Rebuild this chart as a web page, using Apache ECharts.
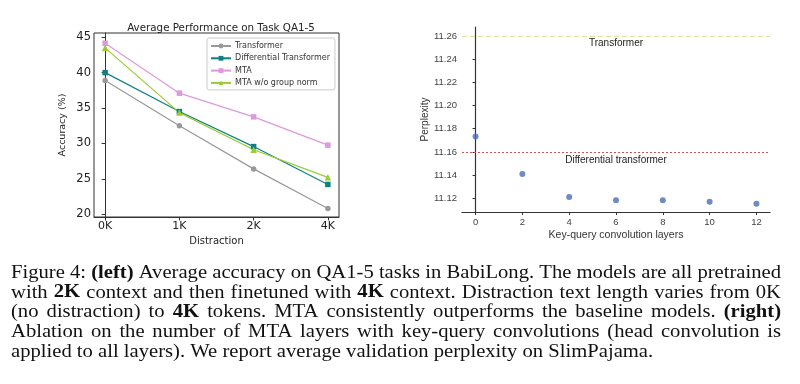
<!DOCTYPE html>
<html><head><meta charset="utf-8">
<script src="https://cdn.jsdelivr.net/npm/echarts@6/dist/echarts.min.js"></script>
<style>html,body{margin:0;padding:0;background:#fff}#c{width:800px;height:384px}</style>
</head><body><div id="c"></div>
<script>
// ---- data ----
const categories = ['0K', '1K', '2K', '4K'];
const transformer = [38.9, 32.5, 26.4, 20.8];
const diffTransformer = [40.0, 34.5, 29.55, 24.2];
const mta = [44.15, 37.1, 33.75, 29.75];
const mtaNoGroupNorm = [43.5, 34.35, 29.1, 25.2];
const accTicks = [20, 25, 30, 35, 40, 45];

const kqLayers = [0, 2, 4, 6, 8, 10, 12];
const perplexity = [11.1734, 11.141, 11.1211, 11.1183, 11.1183, 11.1171, 11.1154];
const pplTicks = [11.12, 11.14, 11.16, 11.18, 11.20, 11.22, 11.24, 11.26];
const transformerPpl = 11.26;
const diffTransformerPpl = 11.16;

const captionLines = [
  [['Figure 4:', 0], ['(left)', 1], ['Average accuracy on QA1-5 tasks in BabiLong. The models are all pretrained', 0]],
  [['with', 0], ['2K', 1], ['context and then finetuned with', 0], ['4K', 1], ['context. Distraction text length varies from 0K', 0]],
  [['(no distraction) to', 0], ['4K', 1], ['tokens. MTA consistently outperforms the baseline models.', 0], ['(right)', 1]],
  [['Ablation on the number of MTA layers with key-query convolutions (head convolution is', 0]],
  [['applied to all layers). We report average validation perplexity on SlimPajama.', 0]]
];

// ---- chart ----
const chart = echarts.init(document.getElementById('c'), null, {renderer: 'canvas'});
const sans = 'DejaVu Sans';
const sans2 = 'Liberation Sans';

function pts(vals) { return vals.map((v, i) => [i, v]); }

// caption layout: words horizontally scaled, then justified
const serif = 'Liberation Serif';
const capSize = 18.5;
const capLeft = 11, capRight = 781, capTop0 = 273, capLineH = 19.7;
const cv = document.createElement('canvas').getContext('2d');
function fontOf(b) { return (b ? 'bold ' : '') + capSize + 'px "' + serif + '"'; }
function measure(t, b) { cv.font = fontOf(b); return cv.measureText(t).width; }
const space = measure(' ', 0);
const lineWords = captionLines.map(segs => {
  const words = [];
  segs.forEach(([t, b]) => t.split(' ').forEach(w => words.push([w, b])));
  return words;
});
const lineInfo = lineWords.map(words => {
  const widths = words.map(([w, b]) => measure(w, b));
  const total = widths.reduce((a, b) => a + b, 0);
  return {widths, total, natural: total + space * (words.length - 1)};
});
let sx = Infinity;
lineInfo.forEach((inf, li) => { if (li < lineInfo.length - 1) sx = Math.min(sx, (capRight - capLeft) / inf.natural); });
const graphics = [];
lineWords.forEach((words, li) => {
  const inf = lineInfo[li];
  const justify = li < lineWords.length - 1;
  const gap = justify ? ((capRight - capLeft) - inf.total * sx) / (words.length - 1) : space * sx;
  let x = capLeft;
  words.forEach(([w, b], i) => {
    graphics.push({type: 'text', x: x, y: capTop0 + li * capLineH, scaleX: sx,
      style: {text: w, font: fontOf(b), fill: '#111', textVerticalAlign: 'middle'}});
    x += inf.widths[i] * sx + gap;
  });
});

const lineColors = ['#999999', '#0f8080', '#dd99dd', '#9acd32'];
const names = ['Transformer', 'Differential Transformer', 'MTA', 'MTA w/o group norm'];
const vals = [transformer, diffTransformer, mta, mtaNoGroupNorm];
const symbols = ['circle', 'rect', 'rect', 'triangle'];

const series = vals.map((v, i) => ({
  type: 'line', name: names[i], xAxisIndex: 0, yAxisIndex: 0,
  data: pts(v), symbol: symbols[i], symbolSize: i === 3 ? 6.5 : 5.5,
  lineStyle: {color: lineColors[i], width: 1.2}, itemStyle: {color: lineColors[i]},
  z: i === 2 ? 3 : 2
}));
series.push({
  type: 'scatter', xAxisIndex: 1, yAxisIndex: 1, data: kqLayers.map((k, i) => [k, perplexity[i]]),
  symbolSize: 6, itemStyle: {color: '#4a6fb3'},
  markLine: {
    symbol: 'none', silent: true, animation: false,
    data: [
      {yAxis: transformerPpl, lineStyle: {color: '#e3dfa2', type: [5, 3], width: 1.2},
       label: {formatter: 'Transformer', position: 'insideMiddleBottom', color: '#222', fontSize: 10, fontFamily: sans2, distance: 2}},
      {yAxis: diffTransformerPpl, lineStyle: {color: '#cc5555', type: [2, 2], width: 1.2},
       label: {formatter: 'Differential transformer', position: 'insideMiddleBottom', color: '#222', fontSize: 10, fontFamily: sans2, distance: 3}}
    ]
  }
});

chart.setOption({
  animation: false,
  title: {text: 'Average Performance on Task QA1-5', left: 216, top: 18, textAlign: 'center',
    textStyle: {fontFamily: sans, fontSize: 10.3, fontWeight: 'normal', color: '#222'}},
  legend: {
    data: names, orient: 'vertical', left: 207, top: 38, padding: [4, 5, 3, 3], itemGap: 4.3,
    itemWidth: 20, itemHeight: 6, borderColor: '#cccccc', borderWidth: 1, borderRadius: 2,
    textStyle: {fontFamily: sans, fontSize: 8, color: '#333', padding: [0, 0, 0, -1]}
  },
  grid: [
    {left: 94, top: 33, width: 245, height: 184, show: true, borderColor: '#333', borderWidth: 1},
    {left: 462, top: 27, width: 308, height: 185}
  ],
  xAxis: [
    {type: 'value', gridIndex: 0, min: -0.15, max: 3.15, name: 'Distraction', nameLocation: 'middle', nameGap: 19,
      nameTextStyle: {fontFamily: sans, fontSize: 10, color: '#222'},
      axisLine: {show: true, lineStyle: {color: '#333'}}, splitLine: {show: false},
      axisTick: {show: true, length: 3.5, lineStyle: {color: '#333'}, customValues: [0, 1, 2, 3]},
      axisLabel: {customValues: [0, 1, 2, 3], formatter: v => categories[Math.round(v)], fontFamily: sans, fontSize: 11, color: '#222', margin: 4}},
    {type: 'value', gridIndex: 1, min: -0.58, max: 12.58, name: 'Key-query convolution layers', nameLocation: 'middle', nameGap: 18,
      nameTextStyle: {fontFamily: sans2, fontSize: 10.5, color: '#333'},
      axisLine: {show: true, lineStyle: {color: '#333', width: 1.2}}, splitLine: {show: false},
      axisTick: {show: true, length: 3, lineStyle: {color: '#333'}, customValues: kqLayers},
      axisLabel: {customValues: kqLayers, formatter: v => String(Math.round(v)), fontFamily: sans2, fontSize: 9.5, color: '#444', margin: 5}}
  ],
  yAxis: [
    {type: 'value', gridIndex: 0, min: 19.6, max: 45.6, name: 'Accuracy (%)', nameLocation: 'middle', nameGap: 26,
      nameTextStyle: {fontFamily: sans, fontSize: 9.5, color: '#222'},
      axisLine: {show: true, lineStyle: {color: '#333'}}, splitLine: {show: false},
      axisTick: {show: true, length: 3.5, lineStyle: {color: '#333'}, customValues: accTicks},
      axisLabel: {customValues: accTicks, fontFamily: sans, fontSize: 11.5, color: '#222', margin: 3}},
    {type: 'value', gridIndex: 1, min: 11.1082, max: 11.2677, name: 'Perplexity', nameLocation: 'middle', nameGap: 32,
      nameTextStyle: {fontFamily: sans2, fontSize: 10, color: '#333'},
      axisLine: {show: true, lineStyle: {color: '#333', width: 1.2}}, splitLine: {show: false},
      axisTick: {show: true, length: 3, lineStyle: {color: '#333'}, customValues: pplTicks},
      axisLabel: {customValues: pplTicks, formatter: v => v.toFixed(2), fontFamily: sans2, fontSize: 9.5, color: '#444', margin: 5}}
  ],
  series: series,
  graphic: graphics
});
</script></body></html>
